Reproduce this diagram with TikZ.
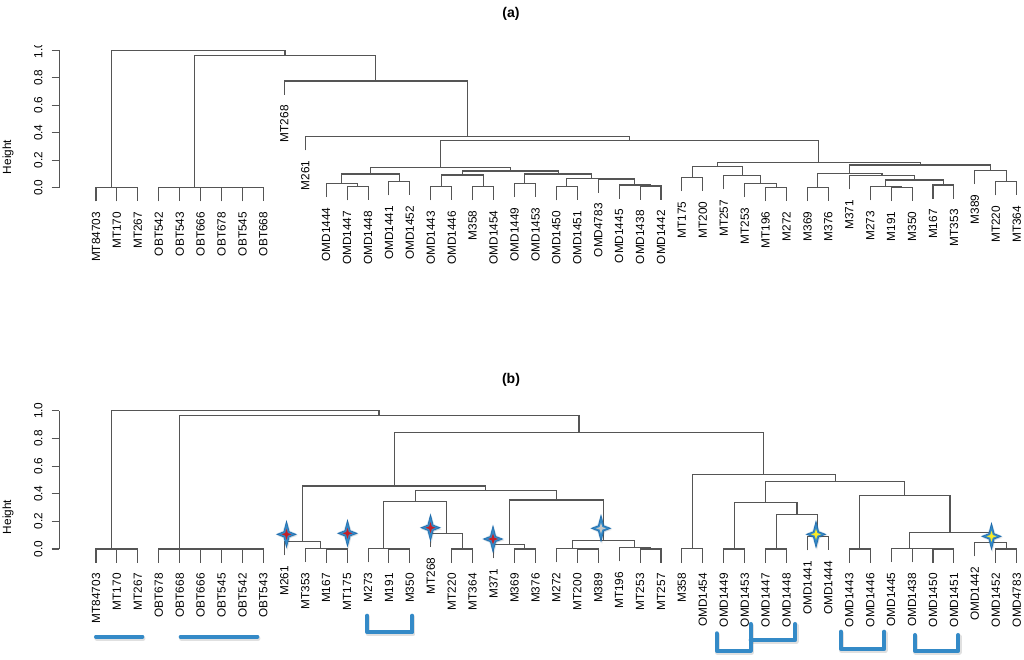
\documentclass[tikz,border=0pt]{standalone}
\usepackage{fontspec}
\setmainfont{Liberation Sans}
\usetikzlibrary{calc}
\definecolor{dend}{RGB}{85,85,85}
\definecolor{sblue}{RGB}{52,138,199}
\definecolor{sdblue}{RGB}{30,105,170}
\definecolor{sred}{RGB}{196,32,40}
\definecolor{syellow}{RGB}{250,235,40}
\definecolor{sgrey}{RGB}{200,200,200}
\newcommand\lblfont{\fontsize{8.4}{8.4}\selectfont}
\newcommand\ttlfont{\fontsize{10}{10}\selectfont\bfseries}
% leaf: name, index, parent y, label
\newcommand\leafnode[4]{%
  \coordinate (#1) at ({96+20.925*(#2-1)},{#3+13.75});
  \node[lbl] (t#1) at ({96+20.925*(#2-1)},{#3+24.05}) {#4};}
% merge: name, child1, child2, y
\newcommand\mergenode[4]{%
  \path ($(#2)!0.5!(#3)$) coordinate (m#1);
  \coordinate (h#1) at (0,#4);
  \coordinate (#1) at (m#1 |- h#1);
  \draw[dline] (#2) |- (#1) -| (#3);}
\tikzset{
  dline/.style={draw=dend,line width=0.75pt},
  lbl/.style={rotate=90,anchor=east,inner sep=0pt,font=\lblfont},
  ticklbl/.style={rotate=90,inner sep=0pt,font=\lblfont},
  bracket/.style={draw=sblue,line width=2.9pt,line cap=round,line join=round},
  bshadow/.style={draw=black,opacity=0.12,line width=3.4pt,line cap=round,line join=round},
  starshape/.style={},
  spark/.pic={
    \fill[black,opacity=0.10] (1,-12) -- (3.8,-0.6) -- (11.3,1.5) -- (3.8,3.6) -- (1,16) -- (-1.8,3.6) -- (-9.3,1.5) -- (-1.8,-0.6) -- cycle;
    \fill[sblue,opacity=0.25] (0,-14.5) -- (3.6,-3.6) -- (11,0) -- (3.6,3.6) -- (0,14.5) -- (-3.6,3.6) -- (-11,0) -- (-3.6,-3.6) -- cycle;
    \fill[sblue,draw=sdblue,line width=0.4pt] (0,-13) -- (2.6,-2.6) -- (9.5,0) -- (2.6,2.6) -- (0,13) -- (-2.6,2.6) -- (-9.5,0) -- (-2.6,-2.6) -- cycle;
    \fill[#1] (0,-5.5) -- (1.3,-1.3) -- (5,0) -- (1.3,1.3) -- (0,5.5) -- (-1.3,1.3) -- (-5,0) -- (-1.3,-1.3) -- cycle;
  }
}
\begin{document}
\begin{tikzpicture}[x=0.25mm,y=-0.25mm]
\fill[white] (0,0) rectangle (1024,659);
\useasboundingbox (0,0) rectangle (1024,659);

% ================= panel (a) =================
\node[font=\ttlfont] (ta) at (511,14) {(a)};
\node[font=\lblfont,rotate=90] (hta) at (8,157) {Height};
\draw[dline] (59.3,187.7) -- (59.3,50.3);
\foreach \h/\t in {0/0.0,0.2/0.2,0.4/0.4,0.6/0.6,0.8/0.8}{
  \draw[dline] (51.7,{187.7-137.4*\h}) -- (59.3,{187.7-137.4*\h});
  \node[ticklbl] at (38.3,{187.7-137.4*\h}) {\t};
}
\draw[dline] (51.7,50.3) -- (59.3,50.3);
\begin{scope}
\clip (0,45.5) rectangle (58,70);
\node[ticklbl] at (38.3,50.3) {1.0};
\end{scope}

\leafnode{aMT84703}{1}{187.7}{MT84703}
\leafnode{aMT170}{2}{187.7}{MT170}
\leafnode{aMT267}{3}{187.7}{MT267}
\leafnode{aOBT542}{4}{187.7}{OBT542}
\leafnode{aOBT543}{5}{187.7}{OBT543}
\leafnode{aOBT666}{6}{187.7}{OBT666}
\leafnode{aOBT678}{7}{187.7}{OBT678}
\leafnode{aOBT545}{8}{187.7}{OBT545}
\leafnode{aOBT668}{9}{187.7}{OBT668}
\leafnode{aMT268}{10}{81}{MT268}
\leafnode{aM261}{11}{136.5}{M261}
\leafnode{aOMD1444}{12}{183.3}{OMD1444}
\leafnode{aOMD1447}{13}{186.7}{OMD1447}
\leafnode{aOMD1448}{14}{186.7}{OMD1448}
\leafnode{aOMD1441}{15}{181.7}{OMD1441}
\leafnode{aOMD1452}{16}{181.7}{OMD1452}
\leafnode{aOMD1443}{17}{186.7}{OMD1443}
\leafnode{aOMD1446}{18}{186.7}{OMD1446}
\leafnode{aM358}{19}{186.3}{M358}
\leafnode{aOMD1454}{20}{186.3}{OMD1454}
\leafnode{aOMD1449}{21}{183.3}{OMD1449}
\leafnode{aOMD1453}{22}{183.3}{OMD1453}
\leafnode{aOMD1450}{23}{186.7}{OMD1450}
\leafnode{aOMD1451}{24}{186.7}{OMD1451}
\leafnode{aOMD4783}{25}{179}{OMD4783}
\leafnode{aOMD1445}{26}{185}{OMD1445}
\leafnode{aOMD1438}{27}{186}{OMD1438}
\leafnode{aOMD1442}{28}{186}{OMD1442}
\leafnode{aMT175}{29}{177.3}{MT175}
\leafnode{aMT200}{30}{177.3}{MT200}
\leafnode{aMT257}{31}{175.7}{MT257}
\leafnode{aMT253}{32}{183.3}{MT253}
\leafnode{aMT196}{33}{187.4}{MT196}
\leafnode{aM272}{34}{187.4}{M272}
\leafnode{aM369}{35}{187.3}{M369}
\leafnode{aM376}{36}{187.3}{M376}
\leafnode{aM371}{37}{175.7}{M371}
\leafnode{aM273}{38}{186.6}{M273}
\leafnode{aM191}{39}{187.4}{M191}
\leafnode{aM350}{40}{187.4}{M350}
\leafnode{aM167}{41}{185}{M167}
\leafnode{aMT353}{42}{185}{MT353}
\leafnode{aM389}{43}{170.3}{M389}
\leafnode{aMT220}{44}{181.7}{MT220}
\leafnode{aMT364}{45}{181.7}{MT364}

\mergenode{ac1a}{aMT170}{aMT267}{187.7}
\mergenode{ac1}{aMT84703}{ac1a}{187.7}
\mergenode{ao1}{aOBT542}{aOBT543}{187.7}
\mergenode{ao2}{aOBT545}{aOBT668}{187.7}
\mergenode{ao3}{aOBT678}{ao2}{187.7}
\mergenode{ao4}{aOBT666}{ao3}{187.7}
\mergenode{ao5}{ao1}{ao4}{187.7}
\mergenode{a1}{aOMD1447}{aOMD1448}{186.7}
\mergenode{a2}{aOMD1444}{a1}{183.3}
\mergenode{a3}{aOMD1441}{aOMD1452}{181.7}
\mergenode{a4}{a2}{a3}{174}
\mergenode{a5}{aOMD1443}{aOMD1446}{186.7}
\mergenode{a6}{aM358}{aOMD1454}{186.3}
\mergenode{a7}{a5}{a6}{175}
\mergenode{a8}{aOMD1449}{aOMD1453}{183.3}
\mergenode{a9}{aOMD1450}{aOMD1451}{186.7}
\mergenode{a10}{aOMD1438}{aOMD1442}{186}
\mergenode{a11}{aOMD1445}{a10}{185}
\mergenode{a12}{aOMD4783}{a11}{179}
\mergenode{a13}{a9}{a12}{178.3}
\mergenode{a14}{a8}{a13}{174}
\mergenode{a15}{a7}{a14}{171}
\mergenode{aA}{a4}{a15}{167.3}
\mergenode{b1}{aMT175}{aMT200}{177.3}
\mergenode{b2}{aMT196}{aM272}{187.4}
\mergenode{b3}{aMT253}{b2}{183.3}
\mergenode{b4}{aMT257}{b3}{175.7}
\mergenode{b5}{b1}{b4}{166.7}
\mergenode{b6}{aM369}{aM376}{187.3}
\mergenode{b7}{aM191}{aM350}{187.4}
\mergenode{b8}{aM273}{b7}{186.6}
\mergenode{b9}{aM167}{aMT353}{185}
\mergenode{b10}{b8}{b9}{180}
\mergenode{b11}{aM371}{b10}{175.7}
\mergenode{b12}{b6}{b11}{173.3}
\mergenode{b13}{aMT220}{aMT364}{181.7}
\mergenode{b14}{aM389}{b13}{170.3}
\mergenode{b15}{b12}{b14}{165}
\mergenode{bB}{b5}{b15}{162.7}
\mergenode{ar4}{aA}{bB}{140.7}
\mergenode{ar3}{aM261}{ar4}{136.5}
\mergenode{ar2}{aMT268}{ar3}{81}
\mergenode{ar1}{ao5}{ar2}{55.7}
\mergenode{aroot}{ac1}{ar1}{50.3}

% ================= panel (b) =================
\node[font=\ttlfont] (tb) at (511,380) {(b)};
\node[font=\lblfont,rotate=90] (htb) at (8,517) {Height};
\draw[dline] (59.3,549) -- (59.3,410.7);
\foreach \h/\t in {0/0.0,0.2/0.2,0.4/0.4,0.6/0.6,0.8/0.8,1/1.0}{
  \draw[dline] (51.7,{549-138.3*\h}) -- (59.3,{549-138.3*\h});
  \node[ticklbl] at (38.3,{549-138.3*\h}) {\t};
}

\leafnode{pMT84703}{1}{549}{MT84703}
\leafnode{pMT170}{2}{549}{MT170}
\leafnode{pMT267}{3}{549}{MT267}
\leafnode{pOBT678}{4}{549}{OBT678}
\leafnode{pOBT668}{5}{549}{OBT668}
\leafnode{pOBT666}{6}{549}{OBT666}
\leafnode{pOBT545}{7}{549}{OBT545}
\leafnode{pOBT542}{8}{549}{OBT542}
\leafnode{pOBT543}{9}{549}{OBT543}
\leafnode{pM261}{10}{541.7}{M261}
\leafnode{pMT353}{11}{548.3}{MT353}
\leafnode{pM167}{12}{549}{M167}
\leafnode{pMT175}{13}{549}{MT175}
\leafnode{pM273}{14}{548.5}{M273}
\leafnode{pM191}{15}{549}{M191}
\leafnode{pM350}{16}{549}{M350}
\leafnode{pMT268}{17}{533.3}{MT268}
\leafnode{pMT220}{18}{549}{MT220}
\leafnode{pMT364}{19}{549}{MT364}
\leafnode{pM371}{20}{544.7}{M371}
\leafnode{pM369}{21}{549}{M369}
\leafnode{pM376}{22}{549}{M376}
\leafnode{pM272}{23}{548.5}{M272}
\leafnode{pMT200}{24}{549}{MT200}
\leafnode{pM389}{25}{549}{M389}
\leafnode{pMT196}{26}{547.7}{MT196}
\leafnode{pMT253}{27}{549}{MT253}
\leafnode{pMT257}{28}{549}{MT257}
\leafnode{pM358}{29}{548.8}{M358}
\leafnode{pOMD1454}{30}{548.8}{OMD1454}
\leafnode{pOMD1449}{31}{549}{OMD1449}
\leafnode{pOMD1453}{32}{549}{OMD1453}
\leafnode{pOMD1447}{33}{549}{OMD1447}
\leafnode{pOMD1448}{34}{549}{OMD1448}
\leafnode{pOMD1441}{35}{536.7}{OMD1441}
\leafnode{pOMD1444}{36}{536.7}{OMD1444}
\leafnode{pOMD1443}{37}{549}{OMD1443}
\leafnode{pOMD1446}{38}{549}{OMD1446}
\leafnode{pOMD1445}{39}{548.3}{OMD1445}
\leafnode{pOMD1438}{40}{548.6}{OMD1438}
\leafnode{pOMD1450}{41}{549}{OMD1450}
\leafnode{pOMD1451}{42}{549}{OMD1451}
\leafnode{pOMD1442}{43}{542.7}{OMD1442}
\leafnode{pOMD1452}{44}{549}{OMD1452}
\leafnode{pOMD4783}{45}{549}{OMD4783}

\mergenode{pc1a}{pMT170}{pMT267}{549}
\mergenode{pc1}{pMT84703}{pc1a}{549}
\mergenode{po1}{pOBT542}{pOBT543}{549}
\mergenode{po2}{pOBT545}{po1}{549}
\mergenode{po3}{pOBT666}{po2}{549}
\mergenode{po4}{pOBT668}{po3}{549}
\mergenode{po5}{pOBT678}{po4}{549}
\mergenode{p1}{pM167}{pMT175}{549}
\mergenode{p2}{pMT353}{p1}{548.3}
\mergenode{p3}{pM261}{p2}{541.7}
\mergenode{p4}{pM191}{pM350}{549}
\mergenode{p5}{pM273}{p4}{548.5}
\mergenode{p6}{pMT220}{pMT364}{549}
\mergenode{p7}{pMT268}{p6}{533.3}
\mergenode{p8}{p5}{p7}{501.7}
\mergenode{p9}{pM369}{pM376}{549}
\mergenode{p10}{pM371}{p9}{544.7}
\mergenode{p11}{pMT200}{pM389}{549}
\mergenode{p12}{pM272}{p11}{548.5}
\mergenode{p13}{pMT253}{pMT257}{549}
\mergenode{p14}{pMT196}{p13}{547.7}
\mergenode{p15}{p12}{p14}{540.7}
\mergenode{p16}{p10}{p15}{500}
\mergenode{p17}{p8}{p16}{490.7}
\mergenode{p18}{p3}{p17}{486}
\mergenode{q1}{pM358}{pOMD1454}{548.8}
\mergenode{q2}{pOMD1449}{pOMD1453}{549}
\mergenode{q3}{pOMD1447}{pOMD1448}{549}
\mergenode{q4}{pOMD1441}{pOMD1444}{536.7}
\mergenode{q5}{q3}{q4}{514.8}
\mergenode{q6}{q2}{q5}{502.3}
\mergenode{q7}{pOMD1443}{pOMD1446}{549}
\mergenode{q8}{pOMD1450}{pOMD1451}{549}
\mergenode{q9}{pOMD1438}{q8}{548.6}
\mergenode{q10}{pOMD1445}{q9}{548.3}
\mergenode{q11}{pOMD1452}{pOMD4783}{549}
\mergenode{q12}{pOMD1442}{q11}{542.7}
\mergenode{q13}{q10}{q12}{532.3}
\mergenode{q14}{q7}{q13}{495.5}
\mergenode{q15}{q6}{q14}{481.5}
\mergenode{q16}{q1}{q15}{474.8}
\mergenode{p19}{p18}{q16}{432.3}
\mergenode{p20}{po5}{p19}{415.7}
\mergenode{proot}{pc1}{p20}{410.7}

% stars
\pic at (286.5,534.3) {spark=sred};
\pic at (347.5,533.3) {spark=sred};
\pic at (430.5,527.7) {spark=sred};
\pic at (493,539) {spark=sred};
\pic at (601,528.3) {spark=sgrey};
\pic at (816,534.3) {spark=syellow};
\pic at (991.5,536.3) {spark=syellow};

% brackets
\draw[bshadow,shift={(0.8,1.6)}] (96,636.7) -- (142.3,636.7);
\draw[bshadow,shift={(0.8,1.6)}] (180.7,636.7) -- (257.3,636.7);
\draw[bshadow,shift={(0.8,1.6)}] (367.3,615.7) -- (367.3,632.3) -- (412.3,632.3) -- (412.3,615.7);
\draw[bshadow,shift={(0.8,1.6)}] (716.7,633.3) -- (716.7,650.7) -- (750.7,650.7) -- (750.7,624);
\draw[bshadow,shift={(0.8,1.6)}] (750.7,640) -- (795.3,640) -- (795.3,624);
\draw[bshadow,shift={(0.8,1.6)}] (841,631.7) -- (841,649) -- (884.3,649) -- (884.3,631.7);
\draw[bshadow,shift={(0.8,1.6)}] (915,635) -- (915,650.7) -- (958.3,650.7) -- (958.3,635);
\draw[bracket] (96,636.7) -- (142.3,636.7);
\draw[bracket] (180.7,636.7) -- (257.3,636.7);
\draw[bracket] (367.3,615.7) -- (367.3,632.3) -- (412.3,632.3) -- (412.3,615.7);
\draw[bracket] (716.7,633.3) -- (716.7,650.7) -- (750.7,650.7) -- (750.7,624);
\draw[bracket] (750.7,640) -- (795.3,640) -- (795.3,624);
\draw[bracket] (841,631.7) -- (841,649) -- (884.3,649) -- (884.3,631.7);
\draw[bracket] (915,635) -- (915,650.7) -- (958.3,650.7) -- (958.3,635);
\end{tikzpicture}
\end{document}
